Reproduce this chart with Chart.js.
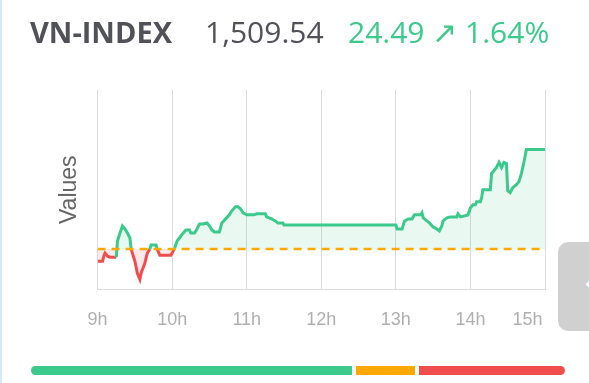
<!DOCTYPE html>
<html>
<head>
<meta charset="utf-8">
<script src="https://cdn.jsdelivr.net/npm/chart.js@4.4.1/dist/chart.umd.min.js"></script>
<style>
    html, body { margin: 0; padding: 0; background: #fff; }
    body { width: 589px; height: 383px; position: relative; overflow: hidden; }
    #edge { position: absolute; left: 0; top: 0; width: 2px; height: 383px; background: #d3e7fb; }
    #wrap { position: absolute; left: 0; top: 0; width: 589px; height: 383px; }
    .hd { position: absolute; top: 12px; line-height: 40px; font-family: "Open Sans", sans-serif; font-size: 30px; white-space: nowrap; }
    #name { left: 30px; font-size: 29px; font-weight: 700; color: #515158; }
    #price { left: 205px; color: #515158; }
    #change { left: 348px; color: #3bca8b; }
    #breadth { position: absolute; left: 31px; top: 366px; width: 534px; height: 9px; display: flex; gap: 4px; }
    #breadth div { height: 100%; }
    #side { position: absolute; left: 558px; top: 242px; width: 50px; height: 89px; background: #d0d0d0; border-radius: 10px; }
    #side span { position: absolute; left: 26px; top: 26px; color: #fff; font: 26px "DejaVu Sans", sans-serif; }
</style>
</head>
<body>
<div id="wrap"><canvas id="vnChart" width="589" height="383"></canvas></div>
<div id="edge"></div>
<div class="hd" id="name">VN-INDEX</div>
<div class="hd" id="price">1,509.54</div>
<div class="hd" id="change">24.49 ↗ 1.64%</div>
<div id="breadth"></div>
<div id="side"><span>‹</span></div>
<script>
const refValue = 1485.05;

const times = [
    "9:00", "9:04", "9:05", "9:06", "9:08", "9:10", "9:15", "9:16", "9:18", "9:20",
    "9:22", "9:24", "9:26", "9:27", "9:30", "9:32", "9:34", "9:35", "9:38", "9:40",
    "9:42", "9:43", "9:47", "9:48", "9:50", "9:59", "10:00", "10:02", "10:04", "10:07",
    "10:09", "10:11", "10:14", "10:15", "10:18", "10:20", "10:22", "10:25", "10:28", "10:30",
    "10:32", "10:34", "10:38", "10:40", "10:43", "10:46", "10:48", "10:51", "10:53", "10:55",
    "10:57", "11:00", "11:06", "11:08", "11:15", "11:16", "11:20", "11:23", "11:25", "11:29",
    "11:30", "13:00", "13:01", "13:05", "13:07", "13:10", "13:13", "13:15", "13:20", "13:21",
    "13:22", "13:25", "13:27", "13:30", "13:33", "13:35", "13:37", "13:38", "13:41", "13:44",
    "13:49", "13:50", "13:52", "13:58", "14:00", "14:02", "14:04", "14:05", "14:08", "14:09",
    "14:10", "14:16", "14:17", "14:19", "14:21", "14:23", "14:25", "14:27", "14:29", "14:30",
    "14:32", "14:34", "14:37", "14:39", "14:41", "14:43", "14:45", "15:00"
];

const values = [
    1482.08, 1482.08, 1483.32, 1484.06, 1483.32, 1483.07, 1483.07, 1487.03, 1489.01, 1490.74,
    1490.00, 1489.01, 1487.77, 1485.05, 1482.08, 1479.11, 1477.63, 1479.11, 1481.59, 1484.06,
    1485.05, 1486.04, 1486.04, 1485.05, 1483.57, 1483.57, 1484.06, 1485.30, 1487.03, 1488.27,
    1489.01, 1489.75, 1489.75, 1489.01, 1489.01, 1490.00, 1491.24, 1491.24, 1491.49, 1490.74,
    1489.75, 1489.26, 1489.26, 1491.49, 1492.48, 1493.47, 1494.46, 1495.45, 1495.45, 1494.95,
    1493.96, 1493.47, 1493.47, 1493.71, 1493.71, 1492.97, 1492.48, 1491.98, 1491.49, 1491.49,
    1490.99, 1490.99, 1490.00, 1490.00, 1491.98, 1492.48, 1492.48, 1493.47, 1493.47, 1493.96,
    1492.72, 1491.98, 1491.49, 1490.50, 1490.00, 1489.51, 1490.74, 1491.98, 1492.72, 1492.97,
    1492.97, 1493.71, 1492.97, 1493.46, 1495.20, 1495.94, 1495.94, 1496.68, 1496.68, 1497.67,
    1499.65, 1499.65, 1503.61, 1504.36, 1505.10, 1506.34, 1505.10, 1506.34, 1506.09, 1499.41,
    1498.91, 1500.15, 1500.89, 1501.63, 1503.61, 1506.34, 1509.54, 1509.54
];

// tick positions in minutes after 9:00, the last label sits at the ATC close
const tickMinutes = [0, 60, 120, 180, 240, 300, 346, 360];
const tickLabels = ["9h", "10h", "11h", "12h", "13h", "14h", "15h", ""];

// advancing / unchanged / declining
const breadth = [321, 59, 146];
const breadthColors = ["#3bca8b", "#ffa900", "#f04d4d"];

const GREEN = "#3bca8b";
const RED = "#f04d4d";

function toMinutes(t) {
    const [h, m] = t.split(":").map(Number);
    return (h - 9) * 60 + m;
}

const points = times.map((t, i) => ({ x: toMinutes(t), y: values[i] }));

const bar = document.getElementById("breadth");
breadth.forEach((n, i) => {
    const d = document.createElement("div");
    d.style.flex = n + " 1 0";
    d.style.background = breadthColors[i];
    if (i === 0) d.style.borderRadius = "5px 0 0 5px";
    if (i === breadth.length - 1) d.style.borderRadius = "0 5px 5px 0";
    bar.appendChild(d);
});

new Chart(document.getElementById("vnChart"), {
    type: "line",
    data: {
        datasets: [{
            data: points,
            order: 1,
            borderWidth: 3,
            borderColor: GREEN,
            pointRadius: 0,
            tension: 0,
            segment: {
                borderColor: ctx =>
                    (ctx.p0.parsed.y + ctx.p1.parsed.y) / 2 < refValue ? RED : GREEN
            },
            fill: {
                target: { value: refValue },
                above: "rgba(59,202,139,0.11)",
                below: "rgba(240,77,77,0.12)"
            }
        }, {
            data: [{ x: 0, y: refValue }, { x: 360, y: refValue }],
            order: 0,
            borderColor: "#ffa900",
            borderWidth: 2.5,
            borderDash: [8, 6],
            pointRadius: 0,
            fill: false
        }]
    },
    options: {
        responsive: false,
        animation: false,
        layout: { padding: { left: 50, top: 90, right: 44, bottom: 32 } },
        plugins: { legend: { display: false }, tooltip: { enabled: false } },
        scales: {
            x: {
                type: "linear",
                min: 0,
                max: 360,
                afterBuildTicks: scale => {
                    scale.ticks = tickMinutes.map(v => ({ value: v }));
                },
                grid: {
                    drawTicks: false,
                    color: ctx => ctx.tick && ctx.tick.value === 346 ? "rgba(0,0,0,0)" : "#dcdcdc"
                },
                border: { color: "#dcdcdc" },
                ticks: {
                    autoSkip: false,
                    maxRotation: 0,
                    padding: 20,
                    color: "#b0b0b0",
                    font: { size: 18, family: "'Liberation Sans', Arial, sans-serif" },
                    callback: v => tickLabels[tickMinutes.indexOf(v)]
                }
            },
            y: {
                min: 1475.15,
                max: 1524.15,
                grid: { display: false, drawTicks: false },
                border: { display: false },
                ticks: { display: false },
                title: {
                    display: true,
                    text: "Values",
                    color: "#666",
                    padding: { top: 6, bottom: 14 },
                    font: { size: 23, family: "'Liberation Sans', Arial, sans-serif" }
                }
            }
        }
    }
});
</script>
</body>
</html>
